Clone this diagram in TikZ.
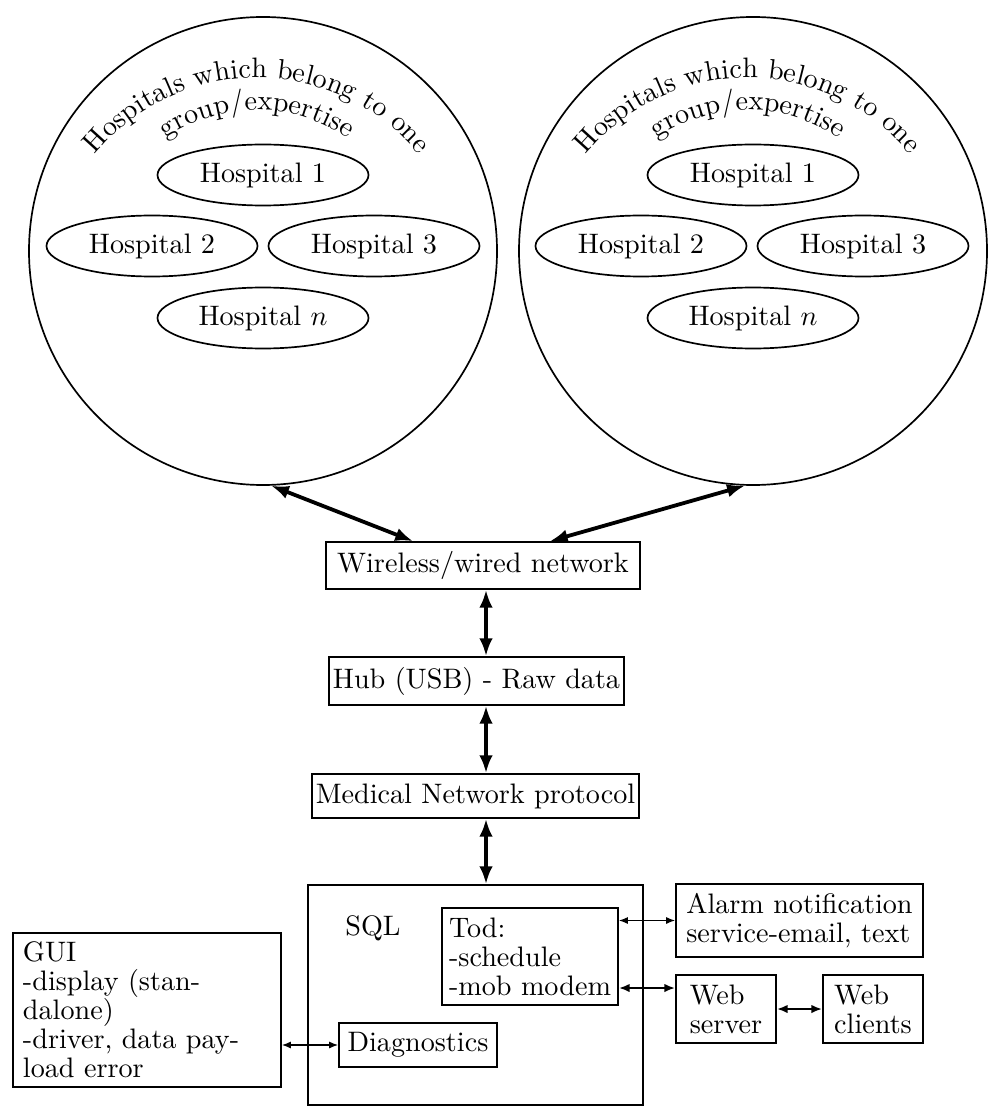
\documentclass[tikz,border=0pt]{standalone}
\usetikzlibrary{shapes.geometric,arrows.meta,calc,decorations.text}
\begin{document}
\begin{tikzpicture}[x=0.355pt,y=-0.355pt,
  box/.style={draw,line width=0.6pt,inner sep=0pt,rectangle},
  hosp/.style={draw,ellipse,line width=0.6pt,inner sep=0pt,minimum width=211*0.355pt,minimum height=61*0.355pt},
  grp/.style={draw,circle,line width=0.6pt,inner sep=0pt,minimum size=468*0.355pt},
  bigarrow/.style={line width=1.35pt,{Latex[length=6.3pt,width=4.8pt]}-{Latex[length=6.3pt,width=4.8pt]}},
  thinarrow/.style={line width=0.45pt,{Latex[length=3.2pt,width=2.5pt]}-{Latex[length=3.2pt,width=2.5pt]}},
  midarrow/.style={line width=0.75pt,{Latex[length=3.8pt,width=3pt]}-{Latex[length=3.8pt,width=3pt]}},
  ml/.style={align=left,font=\fontsize{10}{10.3}\selectfont},
  arctext/.style={decorate,decoration={text along path,text={#1},text align=center}}
]
\useasboundingbox (0,0) rectangle (990,1107);

% group circles
\node[grp] (lc) at (263,251) {};
\node[grp] (rc) at (753,251) {};

% arc captions
\path[arctext={Hospitals which belong to one}] (257,288) ++(-150:210) arc[start angle=-150,end angle=-30,radius=210];
\path[arctext={group/expertise}] (257,270) ++(-150:160) arc[start angle=-150,end angle=-30,radius=160];
\path[arctext={Hospitals which belong to one}] (748,288) ++(-150:210) arc[start angle=-150,end angle=-30,radius=210];
\path[arctext={group/expertise}] (748,270) ++(-150:160) arc[start angle=-150,end angle=-30,radius=160];

% hospitals
\node[hosp] (l1) at (263,175) {Hospital 1};
\node[hosp] (l2) at (152,246) {Hospital 2};
\node[hosp] (l3) at (374,246) {Hospital 3};
\node[hosp] (ln) at (263,318) {Hospital $n$};
\node[hosp] (r1) at (753,175) {Hospital 1};
\node[hosp] (r2) at (641,246) {Hospital 2};
\node[hosp] (r3) at (863,246) {Hospital 3};
\node[hosp] (rn) at (753,318) {Hospital $n$};

% chain
\node[box,minimum width=314*0.355pt,minimum height=47*0.355pt] (wire) at (483,565.5) {Wireless/wired network};
\node[box,minimum width=295*0.355pt,minimum height=48*0.355pt] (hub) at (476.5,681) {Hub (USB) - Raw data};
\node[box,minimum width=327*0.355pt,minimum height=44*0.355pt] (med) at (475.5,796) {Medical Network protocol};
\node[box,minimum width=335*0.355pt,minimum height=220*0.355pt] (sql) at (475.5,995) {};
\node (sqll) at (373,928) {SQL};
\node[box,ml,minimum width=176*0.355pt,minimum height=97*0.355pt] (tod) at (530,956.5) {Tod:\\-schedule\\-mob modem};
\node[box,minimum width=158*0.355pt,minimum height=44*0.355pt] (diag) at (418,1045) {Diagnostics};
\node[box,ml,minimum width=268*0.355pt,minimum height=154*0.355pt,text width=248*0.355pt] (gui) at (147,1010) {GUI\\-display (stan-\\dalone)\\-driver, data pay-\\load error};
\node[box,ml,minimum width=247*0.355pt,minimum height=73*0.355pt] (alarm) at (799.5,920.5) {Alarm notification\\service-email, text};
\node[box,ml,minimum width=100*0.355pt,minimum height=68*0.355pt] (web) at (726,1009) {Web\\server};
\node[box,ml,minimum width=100*0.355pt,minimum height=68*0.355pt] (clients) at (873,1009) {Web\\clients};

% connectors
\coordinate (ax) at (486,0);
\draw[bigarrow] (lc.-88) -- ($(wire.north)+(-70,0)$);
\draw[bigarrow] (rc.-92) -- ($(wire.north)+(67,0)$);
\draw[bigarrow] (wire.south -| ax) -- (hub.north -| ax);
\draw[bigarrow] (hub.south -| ax) -- (med.north -| ax);
\draw[bigarrow] (med.south -| ax) -- (sql.north -| ax);
\draw[thinarrow] (tod.east |- alarm.west) -- (alarm.west);
\coordinate (tw) at ($(tod.east)+(0,31.5)$);
\draw[midarrow] (tw) -- (tw -| web.west);
\draw[midarrow] (web.east) -- (clients.west);
\draw[thinarrow] (gui.east |- diag.west) -- (diag.west);
\end{tikzpicture}
\end{document}
